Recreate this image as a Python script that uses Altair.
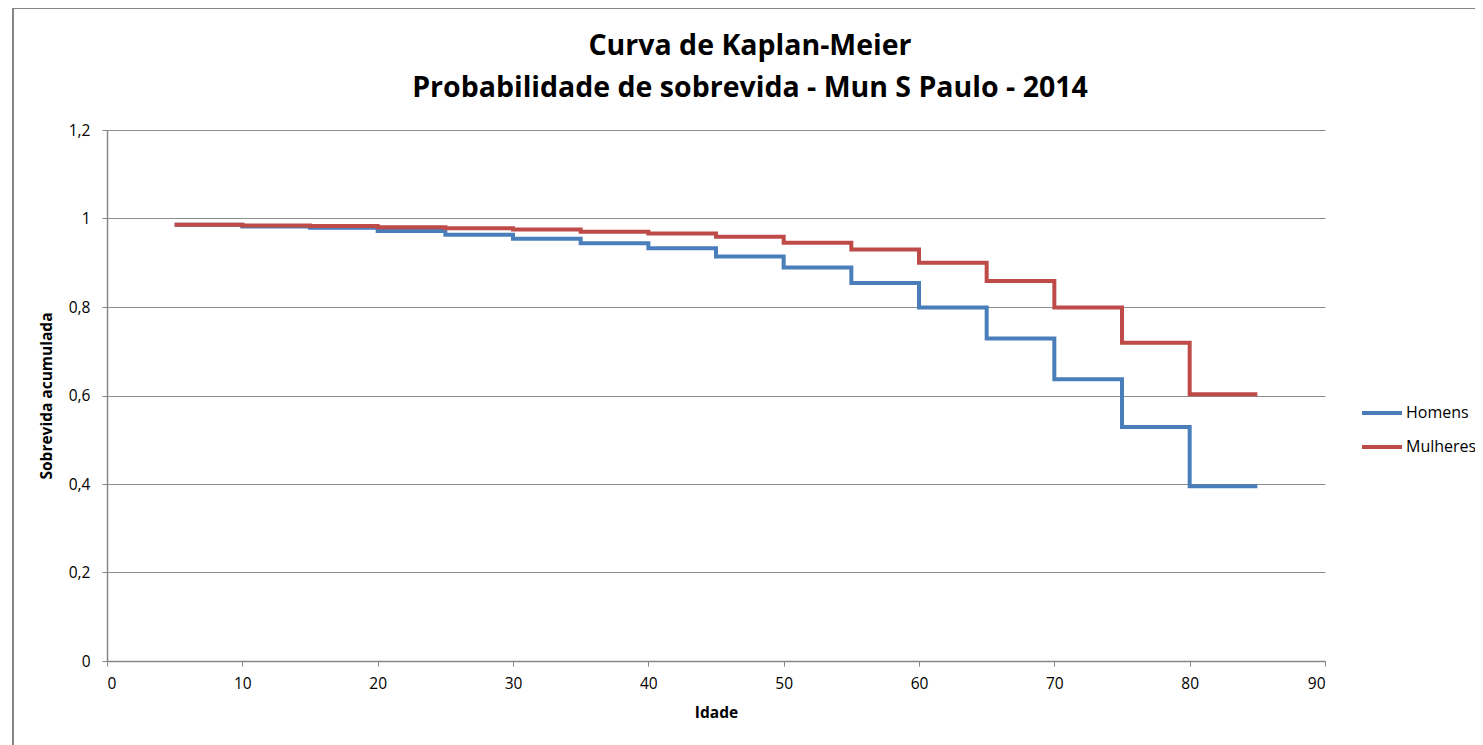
import altair as alt
import pandas as pd

ages = [5, 10, 15, 20, 25, 30, 35, 40, 45, 50, 55, 60, 65, 70, 75, 80, 85]
homens = [0.986, 0.982, 0.979, 0.972, 0.963, 0.954, 0.944, 0.933, 0.914, 0.889,
          0.854, 0.799, 0.729, 0.637, 0.529, 0.395, 0.395]
mulheres = [0.986, 0.984, 0.983, 0.980, 0.978, 0.975, 0.970, 0.966, 0.959, 0.945,
            0.930, 0.900, 0.859, 0.799, 0.719, 0.603, 0.603]
series = ["Homens", "Mulheres"]
colors = ["#4a7ebb", "#be4b48"]
title_line1 = "Curva de Kaplan-Meier"
title_line2 = "Probabilidade de sobrevida - Mun S Paulo - 2014"

rows = []
for a, h, m in zip(ages, homens, mulheres):
    rows.append({"Idade": a, "Serie": "Homens", "Valor": h})
    rows.append({"Idade": a, "Serie": "Mulheres", "Valor": m})
df = pd.DataFrame(rows)

FONT = "Open Sans"
W, H = 1218, 531

lines = alt.Chart(df).mark_line(interpolate="step-after", strokeWidth=4, clip=False).encode(
    x=alt.X("Idade:Q", scale=alt.Scale(domain=[0, 90], nice=False),
            axis=alt.Axis(values=list(range(0, 91, 10)), title="Idade", grid=False,
                          tickSize=5, labelPadding=10, titlePadding=14)),
    y=alt.Y("Valor:Q", scale=alt.Scale(domain=[0, 1.2], nice=False),
            axis=alt.Axis(values=[0, 0.2, 0.4, 0.6, 0.8, 1.0, 1.2], title="Sobrevida acumulada",
                          labelExpr="replace(format(datum.value, '.1~f'), '.', ',')",
                          tickSize=5, labelPadding=12, titlePadding=14)),
    color=alt.Color("Serie:N", scale=alt.Scale(domain=series, range=colors),
                    legend=alt.Legend(title=None, orient="none", legendX=1253, legendY=261,
                                      symbolType="stroke", symbolSize=1600, symbolStrokeWidth=4,
                                      labelFontSize=16, labelFont=FONT, rowPadding=4,
                                      labelOffset=2, labelColor="#000000")),
)

frame_left = alt.Chart(df).mark_rule(color="#868686", strokeWidth=1.5).encode(
    x=alt.value(-94), y=alt.value(-122), y2=alt.value(H + 120))
frame_top = alt.Chart(df).mark_rule(color="#868686", strokeWidth=1.5).encode(
    x=alt.value(-94), x2=alt.value(W + 200), y=alt.value(-122))

def title_layer(text, yoff):
    return alt.Chart(pd.DataFrame({"t": [text]})).mark_text(
        font=FONT, fontSize=28.5, fontWeight="bold", color="#000000",
        align="center", baseline="middle"
    ).encode(text="t:N", x=alt.value(643), y=alt.value(yoff))

chart = alt.layer(frame_left, frame_top, lines,
                  title_layer(title_line1, -84), title_layer(title_line2, -42)).properties(
    width=W, height=H,
    autosize=alt.AutoSizeParams(type="none"),
    padding={"left": 99, "top": 122, "right": 150, "bottom": 100},
).configure_view(stroke=None).configure_axis(
    labelFont=FONT, labelFontSize=15.5, labelColor="#000000",
    titleFont=FONT, titleFontSize=15.5, titleFontWeight="bold", titleColor="#000000",
    domainColor="#868686", tickColor="#868686", gridColor="#8c8c8c", gridWidth=1,
    domainWidth=1.5,
)

chart.save("out.html", embed_options={"renderer": "svg", "actions": False})
